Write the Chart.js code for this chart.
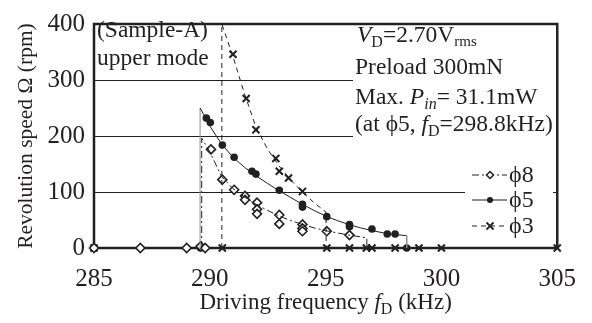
<!DOCTYPE html>
<html>
<head>
<meta charset="utf-8">
<script src="https://cdn.jsdelivr.net/npm/chart.js@4/dist/chart.umd.min.js"></script>
<style>
body { margin: 0; background: #fff; }
#box { width: 592px; height: 323px; }
</style>
</head>
<body>
<div id="box"><canvas id="chart"></canvas></div>
<script>
// tick labels
const xTicks = [285, 290, 295, 300, 305];
const yTicks = [0, 100, 200, 300, 400];

// measured points (frequency kHz, speed rpm)
const phi8Freq  = [285, 287, 289, 289.6, 289.8, 290.05, 290.54, 291.05, 291.52, 291.52, 292.04, 292.04, 292.04, 293.0, 293.0, 294.0, 294.0, 294.0, 295.05, 296.03];
const phi8Speed = [0, 0, 0, 3, 0, 176, 122, 104, 93, 86, 81, 69, 61, 59, 43, 42, 35, 30, 30, 23];

const phi5Freq  = [289.6, 289.85, 290.02, 290.54, 291.05, 291.82, 291.99, 293.0, 294.0, 294.0, 295.05, 296.03, 296.03, 297.0, 297.66, 298.0, 298.5];
const phi5Speed = [0, 232, 224, 184, 162, 137, 132, 103, 78, 73, 56, 42, 38, 34, 25, 25, 0];

const phi3Freq  = [285, 290.54, 291.0, 291.57, 291.99, 292.85, 293.0, 293.4, 294.0, 295.05, 296.03, 296.76, 297.0, 298.0, 299.03, 300, 305];
const phi3Speed = [0, 0, 346, 267, 211, 160, 137, 125, 101, 0, 0, 0, 0, 0, 0, 0, 0];

// fitted curves as drawn in the picture
const phi8FitFreq  = [289.65, 289.65, 290, 290.5, 291, 291.5, 292, 292.5, 293, 293.5, 294, 294.5, 295, 295.5, 296, 296.5, 296.78, 296.78];
const phi8FitSpeed = [0, 196, 172, 128, 106, 91, 78, 67, 57, 49, 42, 36, 31, 27, 23, 20, 18, 0];

const phi5FitFreq  = [289.58, 289.58, 289.85, 290, 290.5, 291, 291.5, 292, 292.5, 293, 293.5, 294, 294.5, 295, 295.5, 296, 296.5, 297, 297.5, 298, 298.5, 298.5];
const phi5FitSpeed = [0, 250, 230, 218, 186, 162, 144, 129, 115, 102, 90, 78, 67, 57, 49, 42, 36, 31, 27, 24, 22, 0];

const phi3FitFreq  = [290.52, 290.52, 290.75, 291, 291.5, 292, 292.5, 293, 293.5, 294, 294.5, 295.02, 295.02];
const phi3FitSpeed = [0, 400, 372, 342, 275, 215, 176, 146, 121, 100, 81, 64, 0];

const serif = "'Liberation Serif', 'Times New Roman', serif";
const ink = '#231f20';
const PHI = 'ϕ';

function pts(xs, ys) {
  return xs.map((x, i) => ({ x: x, y: ys[i] }));
}

function drawRuns(ctx, x, y, runs) {
  runs.forEach(r => {
    ctx.font = r.f;
    ctx.fillText(r.t, x, y + (r.dy || 0));
    x += ctx.measureText(r.t).width;
  });
  return x;
}

function runsWidth(ctx, runs) {
  let w = 0;
  runs.forEach(r => { ctx.font = r.f; w += ctx.measureText(r.t).width; });
  return w;
}

const reg = '23.5px ' + serif;
const ita = 'italic 23.5px ' + serif;
const sub = '16px ' + serif;

const decorations = {
  id: 'decorations',
  beforeDatasetsDraw(chart) {
    const ctx = chart.ctx;
    const a = chart.chartArea;
    ctx.save();
    // white boxes behind the notes
    ctx.fillStyle = '#fff';
    ctx.fillRect(353, 21, 204, 122);
    ctx.fillRect(465, 158, 88, 84);

    ctx.fillStyle = ink;
    ctx.textBaseline = 'alphabetic';
    ctx.textAlign = 'left';
    ctx.font = reg;
    ctx.fillText('(Sample-A)', 97, 37);
    ctx.fillText('upper mode', 97, 65);

    drawRuns(ctx, 357, 42, [
      { t: 'V', f: ita }, { t: 'D', f: sub, dy: 5 }, { t: '=2.70V', f: reg }, { t: 'rms', f: '15px ' + serif, dy: 4 }
    ]);
    drawRuns(ctx, 355, 74, [{ t: 'Preload 300mN', f: reg }]);
    drawRuns(ctx, 355, 104, [
      { t: 'Max. ', f: reg }, { t: 'P', f: ita }, { t: 'in', f: 'italic 16px ' + serif, dy: 5 }, { t: '= 31.1mW', f: reg }
    ]);
    drawRuns(ctx, 355, 131, [
      { t: '(at ' + PHI + '5, ', f: reg }, { t: 'f', f: ita }, { t: 'D', f: sub, dy: 5 }, { t: '=298.8kHz)', f: reg }
    ]);

    // x axis title
    const title = [
      { t: 'Driving frequency ', f: '23px ' + serif }, { t: 'f', f: 'italic 23px ' + serif },
      { t: 'D', f: '16px ' + serif, dy: 5 }, { t: ' (kHz)', f: '23px ' + serif }
    ];
    const w = runsWidth(ctx, title);
    drawRuns(ctx, (a.left + a.right) / 2 - w / 2, 309, title);

    // frame
    ctx.strokeStyle = ink;
    ctx.lineWidth = 2.5;
    ctx.strokeRect(a.left, a.top, a.right - a.left, a.bottom - a.top);
    ctx.restore();
  },
  afterDatasetsDraw(chart) {
    const ctx = chart.ctx;
    ctx.save();
    const items = [
      { label: PHI + '8', dash: [7, 3, 2, 3], y: 175 },
      { label: PHI + '5', dash: [], y: 200 },
      { label: PHI + '3', dash: [5, 4], y: 226 }
    ];
    items.forEach((it, i) => {
      ctx.strokeStyle = ink;
      ctx.lineWidth = 1;
      ctx.setLineDash(it.dash);
      ctx.beginPath();
      ctx.moveTo(472, it.y);
      ctx.lineTo(507, it.y);
      ctx.stroke();
      ctx.setLineDash([]);
      if (i === 0) {
        ctx.fillStyle = '#fff';
        ctx.lineWidth = 1.5;
        ctx.beginPath();
        ctx.moveTo(490, it.y - 3.5); ctx.lineTo(493.5, it.y); ctx.lineTo(490, it.y + 3.5); ctx.lineTo(486.5, it.y);
        ctx.closePath(); ctx.fill(); ctx.stroke();
      } else if (i === 1) {
        ctx.fillStyle = ink;
        ctx.beginPath(); ctx.arc(490, it.y, 3, 0, Math.PI * 2); ctx.fill();
      } else {
        ctx.lineWidth = 1.8;
        ctx.beginPath();
        ctx.moveTo(486.5, it.y - 3.5); ctx.lineTo(493.5, it.y + 3.5);
        ctx.moveTo(493.5, it.y - 3.5); ctx.lineTo(486.5, it.y + 3.5);
        ctx.stroke();
      }
      ctx.fillStyle = ink;
      ctx.font = '24px ' + serif;
      ctx.textBaseline = 'middle';
      ctx.fillText(it.label, 509, it.y + 1);
    });
    ctx.restore();
  }
};

const lineBase = { type: 'line', showLine: true, pointRadius: 0, borderColor: ink, borderWidth: 1, tension: 0, fill: false, clip: false };

new Chart(document.getElementById('chart'), {
  type: 'scatter',
  data: {
    datasets: [
      Object.assign({}, lineBase, { label: 'φ8 fit', data: pts(phi8FitFreq, phi8FitSpeed), borderDash: [7, 3, 2, 3] }),
      Object.assign({}, lineBase, {
        label: 'φ5 fit', data: pts(phi5FitFreq, phi5FitSpeed),
        segment: { borderColor: c => c.p0.parsed.x === c.p1.parsed.x ? '#8c8c8c' : ink }
      }),
      Object.assign({}, lineBase, { label: 'φ3 fit', data: pts(phi3FitFreq, phi3FitSpeed), borderDash: [5, 4] }),
      {
        label: 'φ8', data: pts(phi8Freq, phi8Speed), pointStyle: 'rectRot', pointRadius: 4.5,
        pointBackgroundColor: '#fff', pointBorderColor: ink, pointBorderWidth: 1.6, clip: false
      },
      {
        label: 'φ5', data: pts(phi5Freq, phi5Speed), pointStyle: 'circle', pointRadius: 3.8,
        pointBackgroundColor: ink, pointBorderColor: ink, pointBorderWidth: 0, clip: false
      },
      {
        label: 'φ3', data: pts(phi3Freq, phi3Speed), pointStyle: 'crossRot', pointRadius: 5,
        pointBorderColor: ink, pointBorderWidth: 2, clip: false
      }
    ]
  },
  options: {
    responsive: true,
    maintainAspectRatio: false,
    animation: false,
    layout: { padding: { top: 11, right: 32, left: 0, bottom: 0 } },
    plugins: { legend: { display: false }, tooltip: { enabled: false } },
    scales: {
      x: {
        type: 'linear', min: 285, max: 305,
        afterBuildTicks: s => { s.ticks = xTicks.map(v => ({ value: v })); },
        afterFit: s => { s.height = 75; },
        grid: { display: false, drawTicks: false },
        border: { display: false },
        ticks: { color: ink, font: { family: serif, size: 25 }, padding: 16 }
      },
      y: {
        type: 'linear', min: 0, max: 400,
        afterBuildTicks: s => { s.ticks = yTicks.map(v => ({ value: v })); },
        afterFit: s => { s.width = 94; },
        grid: {
          drawTicks: false, lineWidth: 1,
          color: c => (c.tick.value === 0 || c.tick.value === 400) ? 'rgba(0,0,0,0)' : ink
        },
        border: { display: false },
        ticks: { color: ink, font: { family: serif, size: 25 }, padding: 9 },
        title: {
          display: true, text: 'Revolution speed Ω (rpm)', color: ink,
          font: { family: serif, size: 21.5 }, padding: { top: 13, bottom: 0 }
        }
      }
    }
  },
  plugins: [decorations]
});
</script>
</body>
</html>
